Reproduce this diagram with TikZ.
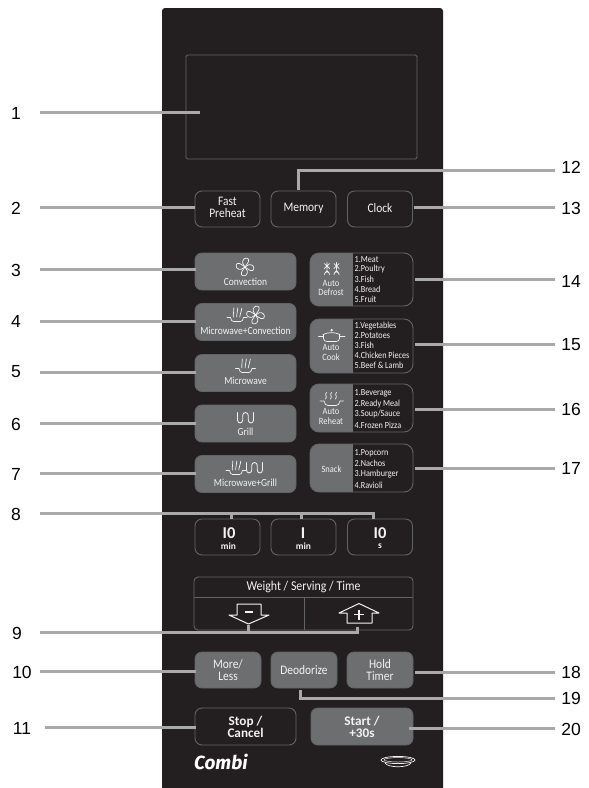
\documentclass[tikz,border=0pt]{standalone}
\usepackage{fontspec}
\setmainfont{Carlito}
\newfontfamily\condfont[FakeStretch=0.88]{Carlito}
\newfontfamily\labelfont{Liberation Sans}
\newfontfamily\combifont{Fira Sans}
\definecolor{panel}{HTML}{231F20}
\definecolor{keygray}{HTML}{6D6E70}
\definecolor{edge}{HTML}{626365}
\definecolor{lead}{HTML}{A9A9A9}
\definecolor{ink}{HTML}{F2F2F2}
\tikzset{
  x=1pt,y=-1pt,
  numlabel/.style={font=\labelfont\fontsize{17.5}{17.5}\selectfont,text=black,inner sep=0pt},
  leader/.style={draw=lead,line width=3pt,line join=miter},
  darkkey/.style={draw=edge,line width=0.9pt,rounded corners=7pt,inner sep=0pt,text=ink,align=center,font=\condfont\fontsize{13}{11.5}\selectfont},
  graykey/.style={darkkey,fill=keygray},
  listkey/.style={darkkey,rounded corners=9pt},
  keytext/.style={text=ink,inner sep=0pt,align=center,font=\condfont\fontsize{10.8}{10.8}\selectfont},
  toptext/.style={keytext,font=\condfont\fontsize{13}{11.5}\selectfont},
  smalltext/.style={keytext,font=\condfont\fontsize{9.6}{9.4}\selectfont},
  listitem/.style={text=ink,inner sep=0pt,anchor=west,font=\condfont\fontsize{9.3}{9.3}\selectfont},
  bigkey/.style={darkkey,font=\bfseries\fontsize{13.2}{12}\selectfont},
  icon/.style={draw=ink,line width=0.7pt,fill=none,line join=round,line cap=round},
}
\newcommand{\fanicon}[2]{%
  \begin{scope}[shift={(#1,#2)}]
  \foreach \a in {0,90,180,270}
    \draw[icon,rotate=\a+12] (0,0) .. controls (-1.5,-2.5) and (-2.5,-6) .. (0.5,-8) .. controls (3,-9.5) and (6.5,-7.5) .. (4.5,-4.5) .. controls (3.5,-3) and (1.5,-1.5) .. (0,0);
  \end{scope}}
\newcommand{\waveicon}[2]{%
  \begin{scope}[shift={(#1,#2)}]
  \draw[icon] (-10,2.5) -- (-6.5,2.5) .. controls (-6,5) and (-5,6.5) .. (-3.5,6.5) -- (3.5,6.5) .. controls (5,6.5) and (6,5) .. (6.5,2.5) -- (10,2.5);
  \foreach \d in {-3.5,0,3.5}
    \draw[icon] (\d*1.15+0.8,-7) .. controls (\d*1.1-0.3,-5) and (\d*1.1+1.3,-3.5) .. (\d,-1.5) .. controls (\d-0.7,-0.5) and (\d-0.2,0.5) .. (\d*0.9-0.4,2);
  \end{scope}}
\newcommand{\grillicon}[2]{%
  \begin{scope}[shift={(#1,#2)}]
  \draw[icon,line width=0.85pt] (-8,-5.5) -- (-8,2) arc[start angle=180,end angle=360,x radius=2.6,y radius=-3] -- (-2.8,-2.5) arc[start angle=180,end angle=0,x radius=2.8,y radius=-3] -- (2.8,2) arc[start angle=180,end angle=360,x radius=2.6,y radius=-3] -- (8,-5.5);
  \end{scope}}
\begin{document}
\begin{tikzpicture}
\useasboundingbox (0,0) rectangle (589,788);
\fill[white] (0,0) rectangle (589,788);
% panel
\fill[panel,rounded corners=3pt] (162,8) rectangle (443,800);
% display
\node[draw=edge,line width=0.9pt,rounded corners=1.5pt,minimum width=231pt,minimum height=104pt,inner sep=0pt] (disp) at (301.5,107) {};

% top row
\node[darkkey,minimum width=65pt,minimum height=36pt] (b2) at (227.5,209) {};
\node[darkkey,minimum width=65pt,minimum height=36pt] (b12) at (303.5,209) {};
\node[darkkey,minimum width=65pt,minimum height=36pt] (b13) at (380,209) {};
\node[toptext] (t2) at (227.5,207.5) {Fast\\Preheat};
\node[toptext] (t12) at (303.5,208) {Memory};
\node[toptext] (t13) at (380,208) {Clock};

% left column
\node[graykey,minimum width=101pt,minimum height=37pt] (b3) at (245.5,271.5) {};
\node[graykey,minimum width=101pt,minimum height=37pt] (b4) at (245.5,322) {};
\node[graykey,minimum width=101pt,minimum height=37pt] (b5) at (245.5,373) {};
\node[graykey,minimum width=101pt,minimum height=37pt] (b6) at (245.5,423.5) {};
\node[graykey,minimum width=101pt,minimum height=37pt] (b7) at (245.5,474) {};
\fanicon{245}{267}
\node[keytext] (t3) at (245.5,282) {Convection};
\waveicon{237}{315}\fanicon{255.5}{315}
\node[keytext] (t4) at (245.5,331) {Microwave+Convection};
\waveicon{245.5}{366}
\node[keytext] (t5) at (245.5,381) {Microwave};
\grillicon{245.5}{418}
\node[keytext] (t6) at (245.5,432) {Grill};
\waveicon{236}{468}\grillicon{254.5}{468}
\node[keytext] (t7) at (245.5,483) {Microwave+Grill};

% right column
\fill[keygray,rounded corners=9pt] (360,253) -- (310,253) -- (310,306) -- (360,306);
\fill[panel] (352.5,252) rectangle (362,307);
\node[listkey,minimum width=103pt,minimum height=53pt] (b14) at (361.5,279.5) {};
\fill[keygray,rounded corners=9pt] (360,319) -- (310,319) -- (310,373) -- (360,373);
\fill[panel] (352.5,318) rectangle (362,374);
\node[listkey,minimum width=103pt,minimum height=54pt] (b15) at (361.5,346) {};
\fill[keygray,rounded corners=9pt] (360,384) -- (310,384) -- (310,432) -- (360,432);
\fill[panel] (352.5,383) rectangle (362,433);
\node[listkey,minimum width=103pt,minimum height=48pt] (b16) at (361.5,408) {};
\fill[keygray,rounded corners=9pt] (360,444) -- (310,444) -- (310,492) -- (360,492);
\fill[panel] (352.5,443) rectangle (362,493);
\node[listkey,minimum width=103pt,minimum height=48pt] (b17) at (361.5,468) {};

% defrost icon
\foreach \cx in {327,336.5}{
  \draw[icon] (\cx-2.6,263.5) -- (\cx+2.6,268.5) (\cx+2.6,263.5) -- (\cx-2.6,268.5) (\cx,262.5) -- (\cx,269.5);
  \draw[icon] (\cx,270.5) .. controls (\cx-1,272) and (\cx-2.6,273) .. (\cx-2.6,274.5) arc[start angle=180,end angle=360,radius=2.6] .. controls (\cx+2.6,273) and (\cx+1,272) .. (\cx,270.5);
}
\node[smalltext] (t14) at (331,288) {Auto\\Defrost};
% cook icon
\fill[ink] (331.7,330.2) circle (1.3pt);
\draw[icon] (323,334.5) .. controls (328,332) and (335,332) .. (340,334.5);
\draw[icon] (318.5,336.5) -- (323.5,336.5) (339.5,336.5) -- (345,336.5);
\draw[icon] (323.5,334.5) -- (323.5,338.5) .. controls (323.5,340.5) and (325,341.5) .. (327,341.5) -- (336,341.5) .. controls (338,341.5) and (339.5,340.5) .. (339.5,338.5) -- (339.5,334.5);
\node[smalltext] (t15) at (331,352.5) {Auto\\Cook};
% reheat icon
\foreach \d in {325.5,330.5,335.5}
  \draw[icon] (\d+1,392.5) .. controls (\d-1.5,395) and (\d+2.5,396) .. (\d,399);
\draw[icon] (320,401) -- (324,401) .. controls (324.5,404) and (326,405.5) .. (328,405.5) -- (336,405.5) .. controls (338,405.5) and (339.5,404) .. (340,401) -- (343.5,401);
\node[smalltext] (t16) at (331,416.5) {Auto\\Reheat};
\node[smalltext] (t17) at (331.5,469) {Snack};

\node[listitem] (i1) at (354.5,259.5) {1.Meat};
\node[listitem] (i2) at (354.5,269.5) {2.Poultry};
\node[listitem] (i3) at (354.5,279.5) {3.Fish};
\node[listitem] (i4) at (354.5,289.5) {4.Bread};
\node[listitem] (i5) at (354.5,299.5) {5.Fruit};
\node[listitem] (i6) at (354.5,326) {1.Vegetables};
\node[listitem] (i7) at (354.5,336) {2.Potatoes};
\node[listitem] (i8) at (354.5,345.5) {3.Fish};
\node[listitem] (i9) at (354.5,355.5) {4.Chicken Pieces};
\node[listitem] (i10) at (354.5,365) {5.Beef \& Lamb};
\node[listitem] (i11) at (354.5,393) {1.Beverage};
\node[listitem] (i12) at (354.5,404) {2.Ready Meal};
\node[listitem] (i13) at (354.5,414.5) {3.Soup/Sauce};
\node[listitem] (i14) at (354.5,425) {4.Frozen Pizza};
\node[listitem] (i15) at (354.5,453) {1.Popcorn};
\node[listitem] (i16) at (354.5,463.5) {2.Nachos};
\node[listitem] (i17) at (354.5,474) {3.Hamburger};
\node[listitem] (i18) at (354.5,485) {4.Ravioli};

% timers
\node[darkkey,minimum width=65pt,minimum height=36pt] (b8a) at (227.5,537) {};
\node[darkkey,minimum width=65pt,minimum height=36pt] (b8b) at (303.5,537) {};
\node[darkkey,minimum width=65pt,minimum height=36pt] (b8c) at (380,537) {};
\node[keytext,font=\bfseries\fontsize{16.5}{16.5}\selectfont] (n8a) at (229,533) {I0};
\node[keytext,font=\bfseries\fontsize{16.5}{16.5}\selectfont] (n8b) at (303,533) {I};
\node[keytext,font=\bfseries\fontsize{16.5}{16.5}\selectfont] (n8c) at (380,533) {I0};
\node[keytext,font=\bfseries\fontsize{9.5}{9.5}\selectfont] (u8a) at (228.5,546) {min};
\node[keytext,font=\bfseries\fontsize{9.5}{9.5}\selectfont] (u8b) at (303.5,546) {min};
\node[keytext,font=\bfseries\fontsize{9.5}{9.5}\selectfont] (u8c) at (380,546.5) {s};

% weight block
\node[draw=edge,line width=0.9pt,rounded corners=4pt,minimum width=219pt,minimum height=53pt,inner sep=0pt] (wbox) at (303.5,603.5) {};
\coordinate (wl) at (194,597);
\coordinate (wm) at (304,597);
\draw[edge,line width=0.9pt] (wl) -- (wl -| wbox.east) (wm) -- (wm |- wbox.south);
\node[keytext,font=\condfont\fontsize{13.5}{13.5}\selectfont] (wtitle) at (303.5,586.5) {Weight / Serving / Time};
\draw[icon,line width=1pt] (237,604) -- (261,604) -- (261,615) -- (269,615) -- (248.5,624) -- (229,615) -- (237,615) -- cycle;
\fill[ink] (245,610.7) rectangle (253,613.3);
\draw[icon,line width=1pt] (359,603.5) -- (379,613) -- (372,613) -- (372,623) -- (347,623) -- (347,613) -- (339,613) -- cycle;
\draw[ink,line width=1.6pt] (354,614.5) -- (364,614.5) (359,609.5) -- (359,619.5);

% bottom keys
\node[graykey,minimum width=66pt,minimum height=36pt] (b10) at (228,670) {More/\\Less};
\node[graykey,minimum width=66pt,minimum height=36pt] (b19) at (304,670) {Deodorize};
\node[graykey,minimum width=66pt,minimum height=36pt] (b18) at (380,670) {Hold\\Timer};
\node[bigkey,minimum width=101pt,minimum height=37pt] (b11) at (245.5,726.5) {Stop /\\Cancel};
\node[bigkey,fill=keygray,minimum width=102pt,minimum height=37pt] (b20) at (362,726.5) {Start /\\+30s};
\node[text=white,inner sep=0pt,anchor=west,font=\combifont\bfseries\itshape\fontsize{19}{19}\selectfont] (combi) at (194,762) {Combi};
\draw[icon] (398,760) ellipse[x radius=17,y radius=3.6];
\draw[icon,line width=0.5pt] (398,759.8) ellipse[x radius=14,y radius=2.2];
\draw[icon] (385,763) .. controls (388,768) and (408,768) .. (411,763);

% labels
\node[numlabel] (l1) at (16,113) {1};
\node[numlabel] (l2) at (16,208) {2};
\node[numlabel] (l3) at (16,270) {3};
\node[numlabel] (l4) at (16,321) {4};
\node[numlabel] (l5) at (16,372) {5};
\node[numlabel] (l6) at (16,424) {6};
\node[numlabel] (l7) at (16,474) {7};
\node[numlabel] (l8) at (16,514) {8};
\node[numlabel] (l9) at (17,633) {9};
\node[numlabel] (l10) at (22,672) {10};
\node[numlabel] (l11) at (22,728) {11};
\node[numlabel] (l12) at (571,167) {12};
\node[numlabel] (l13) at (571,208) {13};
\node[numlabel] (l14) at (571,281) {14};
\node[numlabel] (l15) at (571,345) {15};
\node[numlabel] (l16) at (571,409) {16};
\node[numlabel] (l17) at (571,468) {17};
\node[numlabel] (l18) at (571,672) {18};
\node[numlabel] (l19) at (571,698) {19};
\node[numlabel] (l20) at (571,729) {20};

% connector origins
\foreach \n/\yy in {1/112,2/207,3/269,4/321,5/372,6/423,7/473,8/513,9/632,10/671}
  \coordinate (s\n) at (40,\yy);
\coordinate (s11) at (45,727);
\foreach \n/\yy in {12/170,13/207,14/279,15/344,16/409,17/468,18/672,19/698,20/728}
  \coordinate (s\n) at (555,\yy);
\coordinate (e1) at (200,112);
\coordinate (e12) at (298,190);
\coordinate (e19) at (300,690);
\coordinate (e8a) at (231,519);
\coordinate (e8b) at (301,519);
\coordinate (e8c) at (373,519);
\coordinate (e9a) at (248,625);
\coordinate (e9b) at (357,627);
\coordinate (e20) at (409,728);

\draw[leader] (s1) -- (e1);
\draw[leader] (s2) -- (s2 -| b2.west);
\foreach \n in {3,4,5,6,7,10,11}
  \draw[leader,shorten >=-1.5pt] (s\n) -- (s\n -| b\n.west);
\draw[leader] (s12) -| (e12);
\draw[leader,shorten >=1.5pt] (s13) -- (s13 -| b13.east);
\foreach \n in {14,15,16,17,18}
  \draw[leader,shorten >=1.5pt] (s\n) -- (s\n -| b\n.east);
\draw[leader] (s19) -| (e19);
\draw[leader] (s20) -- (e20);
% 8
\draw[leader] (s8) -| (e8c);
\draw[leader] (s8 -| e8a) -- (e8a);
\draw[leader] (s8 -| e8b) -- (e8b);
% 9
\draw[leader] (s9) -| (e9b);
\draw[leader] (s9 -| e9a) -- (e9a);
\end{tikzpicture}
\end{document}
